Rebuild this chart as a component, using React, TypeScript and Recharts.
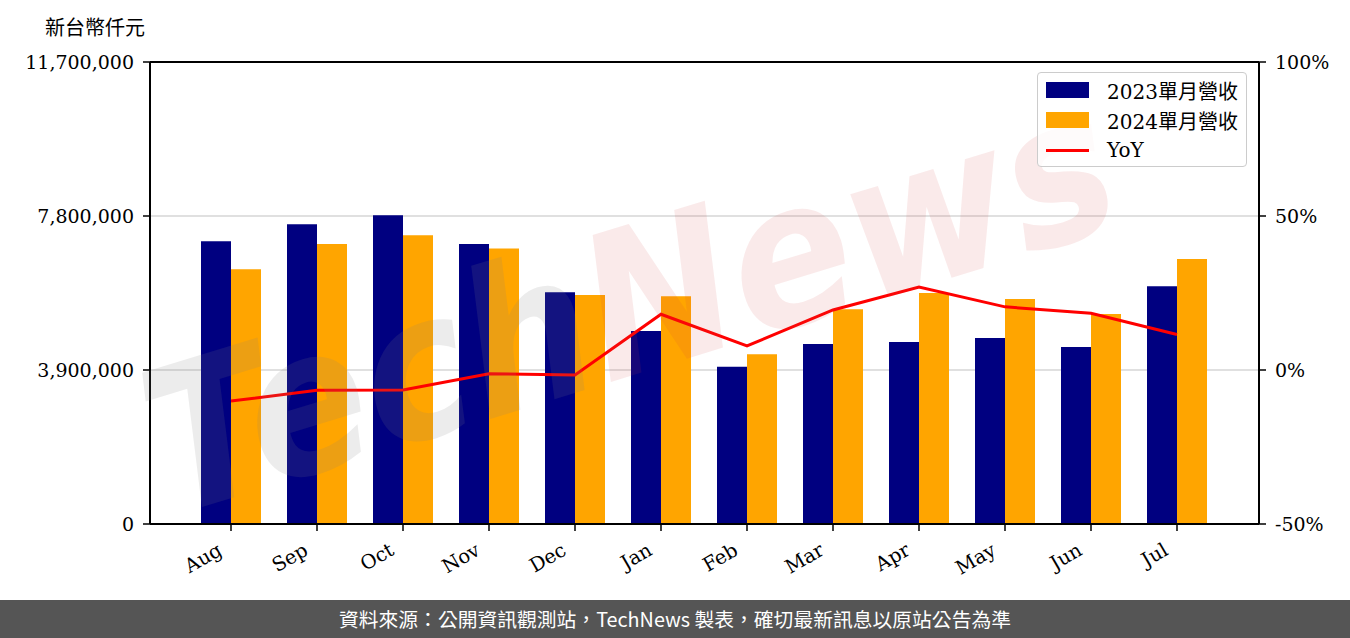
import { ComposedChart, Bar, Line, XAxis, YAxis, CartesianGrid, ReferenceLine } from 'recharts';

const months = ['Aug', 'Sep', 'Oct', 'Nov', 'Dec', 'Jan', 'Feb', 'Mar', 'Apr', 'May', 'Jun', 'Jul'];
const rev2023 = [7160000, 7590000, 7820000, 7090000, 5870000, 4890000, 3980000, 4560000, 4610000, 4710000, 4480000, 6020000];
const rev2024 = [6450000, 7090000, 7310000, 6980000, 5800000, 5770000, 4300000, 5440000, 5850000, 5700000, 5320000, 6710000];
const yoy = [-10.1, -6.6, -6.5, -1.2, -1.6, 18.1, 7.8, 19.5, 26.9, 20.5, 18.4, 11.5];

const leftTicks = [0, 3900000, 7800000, 11700000];
const rightTicks = [-50, 0, 50, 100];

const SERIF = '"DejaVu Serif", "Noto Sans CJK TC", serif';
const CJK = '"Noto Sans CJK TC", "Noto Sans", sans-serif';

const data = months.map((m, i) => ({
  month: m,
  r2023: rev2023[i],
  r2024: rev2024[i],
  yoy: yoy[i],
}));

function MonthTick({ x, y, payload }: any) {
  return (
    <g transform={`translate(${x - 11},${y + 15}) rotate(-30)`}>
      <text x={0} y={0} dy="0.35em" textAnchor="end" fontSize={19.5} fontFamily={SERIF} fill="#000">
        {payload.value}
      </text>
    </g>
  );
}

function LegendBox() {
  const row = (swatch: any, label: string) => (
    <div style={{ display: 'flex', alignItems: 'center', height: 30 }}>
      <div style={{ width: 43, marginLeft: 8, marginRight: 18, display: 'flex', alignItems: 'center' }}>{swatch}</div>
      <span style={{ fontFamily: SERIF, fontSize: 20, color: '#000' }}>{label}</span>
    </div>
  );
  return (
    <div
      style={{
        position: 'absolute',
        left: 1037,
        top: 72,
        width: 210,
        height: 95,
        boxSizing: 'border-box',
        border: '1px solid #cccccc',
        borderRadius: 4,
        background: 'rgba(255,255,255,0.8)',
        paddingTop: 2,
      }}
    >
      {row(<div style={{ width: 43, height: 16, background: '#000080' }} />, '2023單月營收')}
      {row(<div style={{ width: 43, height: 16, background: '#ffa500' }} />, '2024單月營收')}
      {row(<div style={{ width: 43, height: 3, background: '#ff0000' }} />, 'YoY')}
    </div>
  );
}

export default function App() {
  return (
    <div style={{ position: 'fixed', left: 0, top: 0, width: 1350, height: 638, background: '#fff', overflow: 'hidden' }}>
      <div style={{ position: 'absolute', left: 45, top: 12, fontFamily: CJK, fontSize: 20, color: '#000' }}>新台幣仟元</div>
      <ComposedChart
        width={1350}
        height={600}
        data={data}
        margin={{ top: 62, right: 0, left: 0, bottom: 0 }}
        barGap={0}
      >
        <CartesianGrid horizontal vertical={false} stroke="#d6d6d6" strokeWidth={1.5} yAxisId="left" />
        <XAxis
          dataKey="month"
          height={76}
          padding={{ left: 38, right: 39 }}
          tick={<MonthTick />}
          tickSize={7}
          tickLine={{ stroke: '#000', strokeWidth: 1.5 }}
          axisLine={{ stroke: '#000', strokeWidth: 2 }}
          interval={0}
        />
        <YAxis
          yAxisId="left"
          width={150}
          domain={[0, 11700000]}
          ticks={leftTicks}
          tickFormatter={(v: number) => v.toLocaleString('en-US')}
          tick={{ fontSize: 19, fontFamily: SERIF, fill: '#000' }}
          tickSize={7}
          tickMargin={9}
          tickLine={{ stroke: '#000', strokeWidth: 1.5 }}
          axisLine={{ stroke: '#000', strokeWidth: 2 }}
          allowDataOverflow
        />
        <YAxis
          yAxisId="right"
          orientation="right"
          width={91}
          domain={[-50, 100]}
          ticks={rightTicks}
          tickFormatter={(v: number) => `${v}%`}
          tick={{ fontSize: 19, fontFamily: SERIF, fill: '#000' }}
          tickSize={7}
          tickMargin={9}
          tickLine={{ stroke: '#000', strokeWidth: 1.5 }}
          axisLine={{ stroke: '#000', strokeWidth: 2 }}
          allowDataOverflow
        />
        <ReferenceLine yAxisId="left" y={11700000} stroke="#000" strokeWidth={2} />
        <Bar yAxisId="left" dataKey="r2023" name="2023單月營收" fill="#000080" barSize={30} isAnimationActive={false} />
        <Bar yAxisId="left" dataKey="r2024" name="2024單月營收" fill="#ffa500" barSize={30} isAnimationActive={false} />
        <Line
          yAxisId="right"
          dataKey="yoy"
          name="YoY"
          type="linear"
          stroke="#ff0000"
          strokeWidth={3}
          dot={false}
          activeDot={false}
          isAnimationActive={false}
        />
      </ComposedChart>
      <svg
        width={1350}
        height={600}
        style={{ position: 'absolute', left: 0, top: 0, pointerEvents: 'none' }}
      >
        <text
          x={650}
          y={370}
          textAnchor="middle"
          fontSize={200}
          fontStyle="italic"
          fontWeight="bold"
          fontFamily='"DejaVu Sans", sans-serif'
          transform="rotate(-17, 650, 370)"
          textLength={1000}
          lengthAdjust="spacingAndGlyphs"
        >
          <tspan fill="#808080" fillOpacity={0.15}>Tech</tspan>
          <tspan fill="#d04040" fillOpacity={0.11}>News</tspan>
        </text>
      </svg>
      <LegendBox />
      <div
        style={{
          position: 'absolute',
          left: 0,
          top: 600,
          width: 1350,
          height: 38,
          background: '#555555',
          color: '#fff',
          fontFamily: CJK,
          fontSize: 19.8,
          lineHeight: '38px',
          textAlign: 'center',
        }}
      >
        資料來源：公開資訊觀測站，TechNews 製表，確切最新訊息以原站公告為準
      </div>
    </div>
  );
}
